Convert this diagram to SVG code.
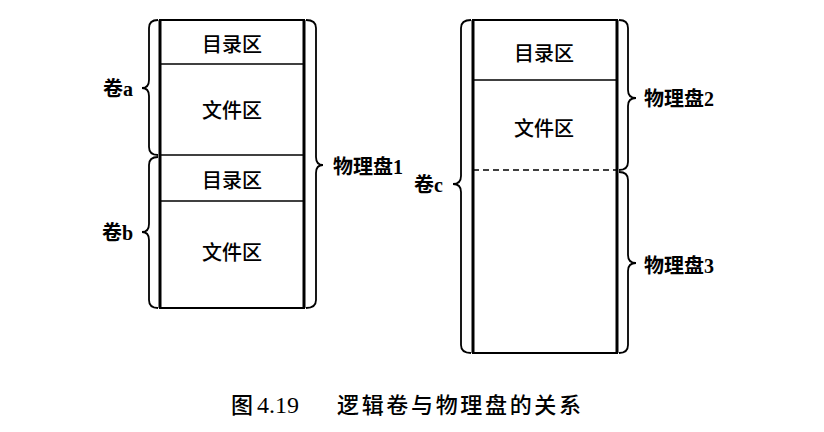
<svg xmlns="http://www.w3.org/2000/svg" width="824" height="432" viewBox="0 0 824 432">
<style>
.box{fill:none;stroke:#000;stroke-width:2}
.edge{stroke:#000;stroke-width:3}
.div{stroke:#000;stroke-width:1.6}
.dash{stroke:#000;stroke-width:1.5;stroke-dasharray:6 4}
.brace{fill:none;stroke:#000;stroke-width:1.8}
.t{font-family:"Noto Sans CJK SC","Noto Sans",sans-serif;font-size:20px;font-weight:500;fill:#000;text-anchor:middle;dominant-baseline:central}
.lb{font-family:"Liberation Serif","Noto Sans CJK SC",serif;font-size:20px;font-weight:bold;fill:#000}
.cap{font-family:"Liberation Serif","Noto Sans CJK SC",serif;font-size:22px;font-weight:500;fill:#000}
</style>
<rect width="824" height="432" fill="#fff"/>
<g id="disk1">
<rect class="box" x="160" y="20" width="144" height="288"/>
<line class="edge" x1="160" y1="20" x2="160" y2="308"/>
<line class="edge" x1="304" y1="20" x2="304" y2="308"/>
<line class="div" x1="160" y1="64" x2="304" y2="64"/>
<line class="div" x1="160" y1="155" x2="304" y2="155"/>
<line class="div" x1="160" y1="201" x2="304" y2="201"/>
<text class="t" x="232" y="43">目录区</text>
<text class="t" x="232" y="109">文件区</text>
<text class="t" x="232" y="179">目录区</text>
<text class="t" x="232" y="251">文件区</text>
</g>
<g id="disk23">
<rect class="box" x="473" y="20" width="144" height="333"/>
<line class="edge" x1="473" y1="20" x2="473" y2="353"/>
<line class="edge" x1="617" y1="20" x2="617" y2="353"/>
<line class="div" x1="473" y1="80" x2="617" y2="80"/>
<line class="dash" x1="473" y1="170" x2="617" y2="170"/>
<text class="t" x="544" y="52">目录区</text>
<text class="t" x="544" y="127">文件区</text>
</g>
<g id="braces">
<path class="brace" d="M158,20 Q149,20 149,28 L149,80 Q149,88 142,88 Q149,88 149,96 L149,147 Q149,155 158,155"/>
<path class="brace" d="M158,157 Q149,157 149,165 L149,224 Q149,232 142,232 Q149,232 149,240 L149,300 Q149,308 158,308"/>
<path class="brace" d="M306,20 Q316,20 316,28 L316,157 Q316,165 323,165 Q316,165 316,173 L316,300 Q316,308 306,308"/>
<path class="brace" d="M471,20 Q461,20 461,28 L461,176 Q461,184 453,184 Q461,184 461,192 L461,345 Q461,353 471,353"/>
<path class="brace" d="M619,20 Q628,20 628,28 L628,90 Q628,98 636,98 Q628,98 628,106 L628,162 Q628,170 619,170"/>
<path class="brace" d="M619,172 Q628,172 628,180 L628,255 Q628,263 636,263 Q628,263 628,271 L628,345 Q628,353 619,353"/>
</g>
<g id="labels">
<text class="lb" x="103" y="96">卷a</text>
<text class="lb" x="102" y="240">卷b</text>
<text class="lb" x="333" y="174">物理盘1</text>
<text class="lb" x="414" y="192">卷c</text>
<text class="lb" x="644" y="106">物理盘2</text>
<text class="lb" x="644" y="273">物理盘3</text>
</g>
<g id="caption">
<text class="cap" x="231" y="413">图</text>
<text class="cap" x="257" y="413" style="font-size:24px">4.19</text>
<text class="cap" x="337" y="413" textLength="244" lengthAdjust="spacing">逻辑卷与物理盘的关系</text>
</g>
</svg>
